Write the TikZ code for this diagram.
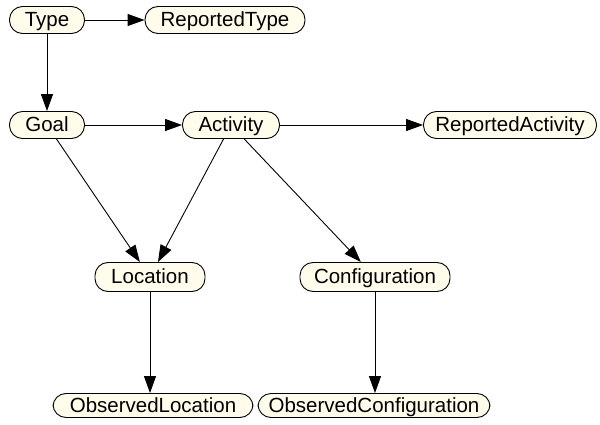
\documentclass[tikz,border=0pt]{standalone}
\usepackage{fontspec}
\setmainfont{Liberation Sans}
\usetikzlibrary{arrows.meta}
\definecolor{nodefill}{RGB}{255,252,236}
\tikzset{
  box/.style={draw=black, line width=0.9pt, fill=nodefill, rounded corners=13pt,
    minimum height=27pt, inner sep=0pt, text height=16pt, text depth=3pt,
    font=\fontsize{20.5}{22}\selectfont},
  link/.style={line width=0.9pt, -{Triangle[length=17pt,width=12pt]}}
}
\begin{document}
\begin{tikzpicture}[x=1pt,y=-1pt]
\useasboundingbox (0,0) rectangle (600,425);
\node[box, minimum width=75pt]  (type) at (47,20) {Type};
\node[box, minimum width=160pt] (rtype) at (225,20) {ReportedType};
\node[box, minimum width=75pt]  (goal) at (47,125) {Goal};
\node[box, minimum width=97pt]  (act) at (231,125) {Activity};
\node[box, minimum width=173pt] (ract) at (510,125) {ReportedActivity};
\node[box, minimum width=110pt, minimum height=29pt] (loc) at (150,277) {Location};
\node[box, minimum width=150pt, minimum height=29pt] (conf) at (375,277) {Configuration};
\node[box, minimum width=200pt, minimum height=24pt] (oloc) at (153,405.5) {ObservedLocation};
\node[box, minimum width=232pt, minimum height=24pt] (oconf) at (374,405.5) {ObservedConfiguration};
\draw[link] (type) -- (rtype);
\draw[link] (type) -- (goal);
\draw[link] (goal) -- (act);
\draw[link] (act) -- (ract);
\draw[link] (goal) -- (loc);
\draw[link] (act) -- (loc);
\draw[link] (act) -- (conf);
\draw[link] (loc) -- (loc |- oloc.north);
\draw[link] (conf) -- (conf |- oconf.north);
\end{tikzpicture}
\end{document}
